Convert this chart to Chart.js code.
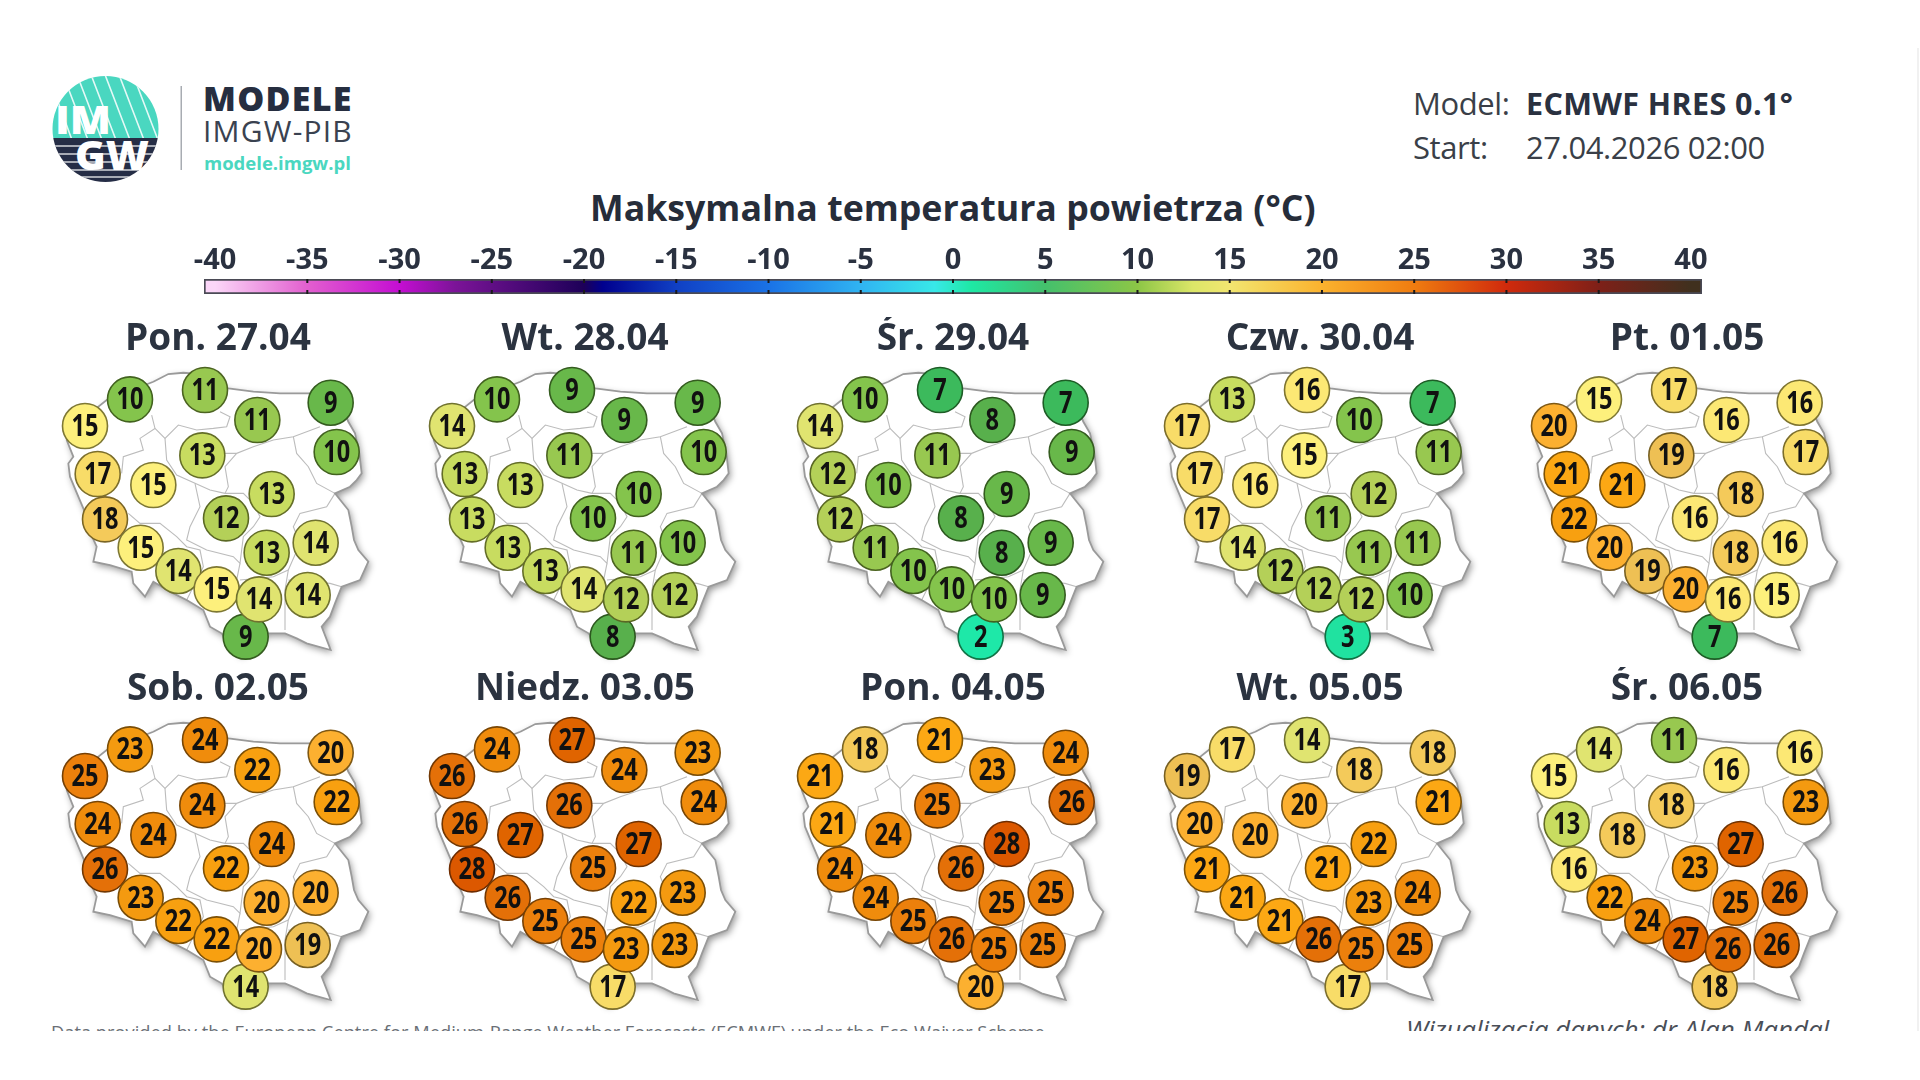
<!DOCTYPE html>
<html lang="pl"><head><meta charset="utf-8"><title>Maksymalna temperatura powietrza</title>
<script src="https://cdn.jsdelivr.net/npm/chart.js@4"></script>
<style>
html,body{margin:0;padding:0;background:#fff;width:1920px;height:1080px;overflow:hidden}
body{position:relative;font-family:"Open Sans",sans-serif;color:#2a3140}
.t{position:absolute;white-space:nowrap;line-height:1}
canvas{position:absolute;display:block}
#clip{position:absolute;left:0;top:0;width:1920px;height:1031px;overflow:hidden}
</style></head><body>
<div id="clip">
<div style="position:absolute;left:1917px;top:48px;width:2px;height:983px;background:#f1f1f1"></div>
<svg style="position:absolute;left:0;top:0" width="200" height="200">
<defs><clipPath id="c"><circle cx="105.5" cy="129" r="53"/></clipPath></defs>
<g clip-path="url(#c)">
<rect x="50" y="70" width="112" height="68" fill="#4ad7c0"/>
<g stroke="#fff" stroke-width="1.6" opacity=".85"><path d="M50 80L72 140M62 72L88 140M76 72L102 140M90 72L116 140M104 72L130 140M118 72L144 140M132 72L158 140M146 72L166 128"/></g>
<rect x="50" y="138" width="112" height="46" fill="#262e46"/>
<g stroke="#fff" stroke-width="1.6" opacity=".8"><path d="M50 146H162M50 154H162M50 162H162M50 170H162M50 177H162"/></g>
</g>
<text x="55" y="134" font-family="Open Sans" font-weight="800" font-size="38" fill="#fff" textLength="56" lengthAdjust="spacingAndGlyphs">IM</text>
<text x="75" y="170" font-family="Open Sans" font-weight="800" font-size="40" fill="#fff" textLength="74" lengthAdjust="spacingAndGlyphs">GW</text>
<rect x="180.500" y="86" width="1.5" height="84" fill="#a8acb2"/>
</svg>
<div class="t" style="left:203px;top:81px;font-size:34px;font-weight:800;color:#262e40;letter-spacing:1.3px">MODELE</div>
<div class="t" style="left:203px;top:116px;font-size:30px;font-weight:400;color:#3a4250;letter-spacing:1.2px">IMGW-PIB</div>
<div class="t" style="left:204px;top:154px;font-size:18.5px;font-weight:700;color:#4ad7c0">modele.imgw.pl</div>
<div class="t" style="left:1413px;top:88px;font-size:31px;font-weight:400;color:#3a3f48;letter-spacing:-.4px">Model:</div>
<div class="t" style="left:1526px;top:88px;font-size:30.500px;font-weight:700;color:#2a3140;letter-spacing:.4px">ECMWF HRES 0.1°</div>
<div class="t" style="left:1413px;top:132px;font-size:31px;font-weight:400;color:#3a3f48;letter-spacing:-.4px">Start:</div>
<div class="t" style="left:1526px;top:132px;font-size:31px;font-weight:400;color:#3a3f48;letter-spacing:-.4px">27.04.2026 02:00</div>
<div class="t" style="left:590px;top:190px;font-size:35.700px;font-weight:700;color:#262d3a;letter-spacing:0">Maksymalna temperatura powietrza (°C)</div>
<div class="t" style="left:51px;top:1023px;font-size:18.300px;color:#6a6f76">Data provided by the European Centre for Medium-Range Weather Forecasts (ECMWF) under the Eco Waiver Scheme.</div>
<div class="t" style="left:1406px;top:1016px;font-size:26px;font-style:italic;color:#4a4f58">Wizualizacja danych: dr Alan Mandal</div>
</div>
<script>
// ---- Categories ----
const dayLabels = ["Pon. 27.04","Wt. 28.04","Śr. 29.04","Czw. 30.04","Pt. 01.05","Sob. 02.05","Niedz. 03.05","Pon. 04.05","Wt. 05.05","Śr. 06.05"];
// ---- Station positions on the map grid (east, south) ----
const stationEast  = [617,270,495,872,135,652,890,487,173,340,695,195,558,302,827,680,415,530,803,657];
const stationSouth = [860,148,120,158,228,210,306,316,372,405,432,508,505,593,578,608,663,718,735,748];
// ---- Forecast maximum temperature per day, one value per station ----
const t2704 = [9,10,11,9,15,11,10,13,17,15,13,18,12,15,14,13,14,15,14,14];
const t2804 = [8,10,9,9,14,9,10,11,13,13,10,13,10,13,10,11,13,14,12,12];
const t2904 = [2,10,7,7,14,8,9,11,12,10,9,12,8,11,9,8,10,10,9,10];
const t3004 = [3,13,16,7,17,10,11,15,17,16,12,17,11,14,11,11,12,12,10,12];
const t0105 = [7,15,17,16,20,16,17,19,21,21,18,22,16,20,16,18,19,20,15,16];
const t0205 = [14,23,24,20,25,22,22,24,24,24,24,26,22,23,20,20,22,22,19,20];
const t0305 = [17,24,27,23,26,24,24,26,26,27,27,28,25,26,23,22,25,25,23,23];
const t0405 = [20,18,21,24,21,23,26,25,21,24,28,24,26,24,25,25,25,26,25,25];
const t0505 = [17,17,14,18,19,18,21,20,20,20,22,21,21,21,24,23,21,26,25,25];
const t0605 = [18,14,11,16,15,16,23,18,13,18,27,16,23,22,26,25,24,27,26,26];
const dayTemps = [t2704,t2804,t2904,t3004,t0105,t0205,t0305,t0405,t0505,t0605];
// ---- Colour bar ----
const colorTicks = [-40,-35,-30,-25,-20,-15,-10,-5,0,5,10,15,20,25,30,35,40];
const barExtent = [-40.6,40.6];
const barStopValues = [-40,-35,-30,-27,-20,-19,-15,-10,-5,-1,1,5,10,13,15,20,25,30,35,40];
const barStopColors = ["#fbd6f8","#e25fcf","#c40ed2","#7c1498","#1d0058","#00008e","#1040c4","#1a72e6","#30b4f2","#38e8e8","#1ee8a4","#44c06c","#8cc646","#dce668","#f2e670","#fbb22e","#ef7c10","#d02a0c","#7e2018","#40301e"];
// ---- Circle fill per temperature ----
const tempValues = [2,3,7,8,9,10,11,12,13,14,15,16,17,18,19,20,21,22,23,24,25,26,27,28];
const tempColors = ["#1ee8a8","#20e2a0","#3cba5c","#58b04c","#68b84a","#84c44c","#98c850","#b4d058","#c8dc60","#e0e470","#fdf07c","#fce874","#f8dc68","#f4ca5a","#eec054","#fcb030","#fca814","#f8a010","#f49a10","#f08c0c","#ec800c","#e47008","#e06400","#dc5800"];
// ---- Poland outline and inner borders on the same map grid ----
const borderEast  = [340,385,430,480,520,565,640,720,800,870,905,925,945,958,965,950,930,885,905,925,935,942,955,985,960,905,885,870,845,872,800,770,735,680,640,600,545,510,490,440,400,340,315,280,275,210,160,170,152,145,115,90,85,100,80,100,150,200,340];
const borderSouth = [95,72,68,72,95,115,125,130,130,130,170,215,250,310,370,390,410,430,455,480,530,570,600,635,690,710,760,800,830,900,880,865,850,850,880,915,850,830,780,750,730,695,740,700,665,645,635,590,550,510,440,380,340,320,270,230,190,150,95];
const innerLines = [
 {east:[335,345,300,310,250,245],south:[195,235,265,300,320,370]},
 {east:[345,375,415,470,520,560,570,540],south:[235,265,225,240,235,230,200,185]},
 {east:[375,380,410,465,510,555],south:[265,330,375,400,420,430]},
 {east:[555,590,640,700,760,840],south:[310,310,290,270,260,230]},
 {east:[590,555,565,555],south:[310,350,410,430]},
 {east:[760,770,805,830,885],south:[260,310,350,400,430]},
 {east:[885,860,780,760,780,745,735,735],south:[430,470,490,530,580,660,720,840]},
 {east:[555,610,640,660,640,610,600,580,500,440,450,480,465],south:[430,430,460,500,530,560,640,620,600,570,530,470,400]},
 {east:[265,300,360,410,440,480,490,440],south:[490,520,520,560,590,600,650,750]},
 {east:[600,590,640],south:[640,690,800]},
 {east:[745,700,600],south:[660,680,690]},
 {east:[745,870,905],south:[690,700,710]}
];

const hex = c => [1,3,5].map(i => parseInt(c.substr(i,2),16));
function fillFor(v){ const i = tempValues.indexOf(v); return tempColors[i < 0 ? 0 : i]; }
function edgeFor(v){ const [r,g,b] = hex(fillFor(v)); return `rgb(${r*.5|0},${g*.5|0},${b*.42|0})`; }

const FONT = '"Open Sans", sans-serif';

const mapBase = {
  id:'mapBase',
  beforeDatasetsDraw(chart){
    const c = chart.ctx, meta = chart.getDatasetMeta(1).data;
    c.save(); c.beginPath();
    meta.forEach((p,i)=> i ? c.lineTo(p.x,p.y) : c.moveTo(p.x,p.y));
    c.closePath();
    c.shadowColor='rgba(0,0,0,.42)'; c.shadowBlur=7; c.shadowOffsetX=2; c.shadowOffsetY=3;
    c.fillStyle='#fff'; c.fill(); c.restore();
  }
};
const valueLabels = {
  id:'valueLabels',
  afterDatasetsDraw(chart){
    const c = chart.ctx, ds = chart.data.datasets[0];
    chart.getDatasetMeta(0).data.forEach((p,i)=>{
      c.save(); c.translate(p.x,p.y+1); c.scale(.76,1);
      c.font=`700 31px ${FONT}`; c.fillStyle='#111'; c.textAlign='center'; c.textBaseline='middle';
      c.fillText(ds.temps[i],0,0); c.restore();
    });
  }
};

dayLabels.forEach((label,n)=>{
  const temps = dayTemps[n];
  const col = n%5, row = Math.floor(n/5);
  const cv = document.createElement('canvas');
  cv.width=360; cv.height=353;
  cv.style.left = (38 + col*367.3) + 'px';
  cv.style.top = (317 + row*350) + 'px';
  document.body.appendChild(cv);
  const lineSets = [{east:borderEast,south:borderSouth,color:'#9a9a9a',w:1.8}]
    .concat(innerLines.map(l=>({east:l.east,south:l.south,color:'#bcbcbc',w:1.1})));
  new Chart(cv,{
    type:'scatter',
    data:{datasets:[
      {label:'temp',temps,data:temps.map((v,i)=>({x:stationEast[i],y:stationSouth[i]})),
       pointRadius:22.5,pointHoverRadius:22.5,borderWidth:1.6,
       backgroundColor:temps.map(fillFor),borderColor:temps.map(edgeFor),clip:false}
    ].concat(lineSets.map(s=>({
       data:s.east.map((x,i)=>({x,y:s.south[i]})),showLine:true,pointRadius:0,
       borderColor:s.color,borderWidth:s.w,tension:0,fill:false,clip:false
    })))},
    options:{
      responsive:false,animation:false,devicePixelRatio:1,
      layout:{padding:0,autoPadding:false},
      plugins:{legend:{display:false},tooltip:{enabled:false},
        title:{display:true,text:label,color:'#2b3340',padding:0,
          font:{family:FONT,weight:'700',lineHeight:1.2,size:37}}},
      scales:{x:{type:'linear',display:false,min:-6,max:1074},
              y:{type:'linear',display:false,reverse:true,min:34,max:960}}
    },
    plugins:[mapBase,valueLabels]
  });
});

const barCanvas = document.createElement('canvas');
barCanvas.width=1610; barCanvas.height=59;
barCanvas.style.left='150px'; barCanvas.style.top='235px';
document.body.appendChild(barCanvas);
const barTicks = {
  id:'barTicks',
  afterDatasetsDraw(chart){
    const c=chart.ctx,x=chart.scales.x,a=chart.chartArea;
    c.save(); c.fillStyle='#1a1a1a';
    colorTicks.slice(1,-1).forEach(v=>{
      const p=x.getPixelForValue(v);
      c.fillRect(p-1,a.top,2,4); c.fillRect(p-1,a.bottom-4,2,4);
    });
    c.restore();
  }
};
new Chart(barCanvas,{
  type:'bar',
  data:{labels:['T'],datasets:[{data:[barExtent],
    barPercentage:1,categoryPercentage:1,borderWidth:2,borderColor:'#4a4a55',borderSkipped:false,
    backgroundColor(ctx){
      const a=ctx.chart.chartArea,x=ctx.chart.scales.x; if(!a||!x) return '#888';
      const g=ctx.chart.ctx.createLinearGradient(x.getPixelForValue(-40),0,x.getPixelForValue(40),0);
      barStopValues.forEach((v,i)=>g.addColorStop((v+40)/80,barStopColors[i]));
      return g;
    }}]},
  options:{
    indexAxis:'y',responsive:false,animation:false,devicePixelRatio:1,
    layout:{padding:{left:54,right:58,top:0,bottom:0},autoPadding:false},
    plugins:{legend:{display:false},tooltip:{enabled:false},title:{display:false}},
    scales:{
      x:{type:'linear',position:'top',min:barExtent[0],max:barExtent[1],border:{display:false},grid:{display:false},
         afterFit(s){s.height=44;},
         afterBuildTicks(s){s.ticks=colorTicks.map(value=>({value}));},
         ticks:{autoSkip:false,maxRotation:0,color:'#2a3140',padding:-7,font:{family:FONT,size:29,weight:'700'}}},
      y:{display:false}
    }
  },
  plugins:[barTicks]
});
</script>
</body></html>
